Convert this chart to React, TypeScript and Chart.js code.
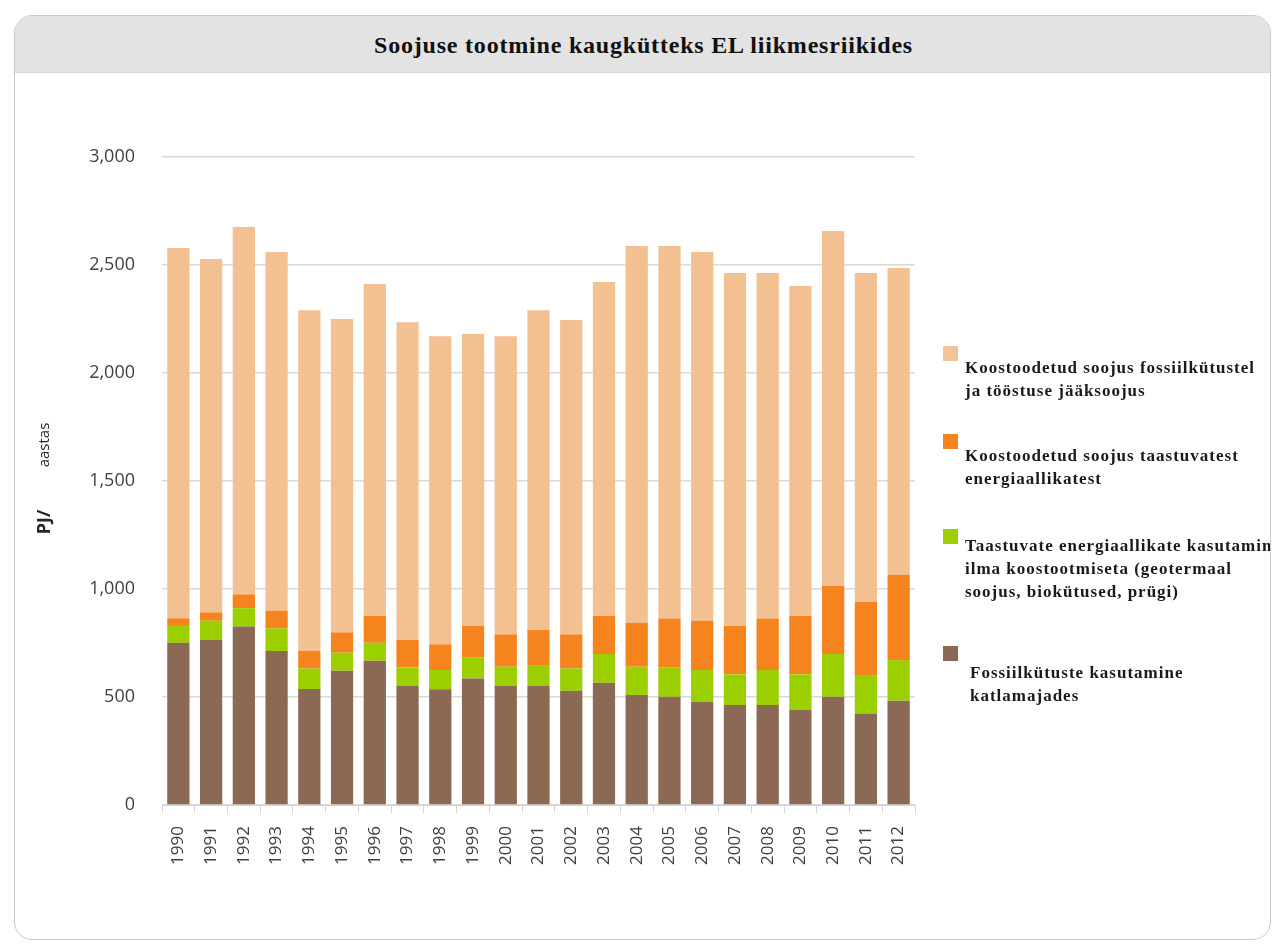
import React, { useEffect, useRef } from "react";
import { Chart, registerables } from "chart.js";

Chart.register(...registerables);

// Years on the category axis
const years = [
  "1990", "1991", "1992", "1993", "1994", "1995", "1996", "1997", "1998", "1999", "2000",
  "2001", "2002", "2003", "2004", "2005", "2006", "2007", "2008", "2009", "2010", "2011", "2012",
];

// PJ per year, stacked bottom to top
const fossilBoilers = [751, 764, 826, 713, 537, 622, 668, 551, 536, 586, 551, 551, 529, 566, 509, 501, 478, 463, 463, 440, 501, 424, 483];
const renewableNoChp = [78, 89, 85, 105, 95, 83, 83, 86, 89, 96, 89, 97, 103, 133, 131, 136, 147, 142, 162, 165, 198, 178, 188];
const chpRenewable = [35, 39, 64, 82, 82, 94, 124, 127, 119, 147, 150, 162, 158, 176, 204, 227, 228, 224, 239, 270, 315, 339, 394];
const chpFossilWaste = [1715, 1636, 1701, 1660, 1576, 1451, 1537, 1471, 1426, 1351, 1380, 1480, 1455, 1546, 1744, 1724, 1707, 1634, 1599, 1528, 1643, 1522, 1421];

const seriesColors = ["#8c6954", "#9ccf00", "#f5841f", "#f3c191"];

// Legend entries, top to bottom, each with its wrapped lines
const legendLines = [
  ["Koostoodetud soojus fossiilkütustel", "ja tööstuse jääksoojus"],
  ["Koostoodetud soojus taastuvatest", "energiaallikatest"],
  ["Taastuvate energiaallikate kasutamine", "ilma koostootmiseta (geotermaal", "soojus, biokütused, prügi)"],
  ["Fossiilkütuste kasutamine", "katlamajades"],
];
const legendColors = ["#f2c39a", "#f5841f", "#9ccf00", "#8c6954"];

const titleText = "Soojuse tootmine kaugkütteks EL liikmesriikides";
const yUnit = "PJ/";
const yUnitRest = "aastas";

const W = 1277;
const H = 949;

// legend block placement: square top and first text baseline per entry
const legendSquareTops = [346, 434, 529, 646];
const legendFirstBaselines = [373, 461, 551, 678];

const sidePlugin = {
  id: "sideTexts",
  afterDraw(chart: any) {
    const ctx: CanvasRenderingContext2D = chart.ctx;
    ctx.save();
    // axis unit, rotated
    ctx.fillStyle = "#262626";
    ctx.textAlign = "center";
    ctx.textBaseline = "middle";
    ctx.save();
    ctx.translate(45, 522);
    ctx.rotate(-Math.PI / 2);
    ctx.font = "bold 18px 'Open Sans'";
    ctx.fillText(yUnit, 0, 0);
    ctx.restore();
    ctx.save();
    ctx.translate(45, 445);
    ctx.rotate(-Math.PI / 2);
    ctx.font = "15px 'Open Sans'";
    ctx.fillText(yUnitRest, 0, 0);
    ctx.restore();

    // legend
    ctx.beginPath();
    ctx.rect(0, 0, 1270, H);
    ctx.clip();
    ctx.textAlign = "left";
    ctx.textBaseline = "alphabetic";
    ctx.font = "bold 17px 'Liberation Serif'";
    (ctx as any).letterSpacing = "1px";
    legendLines.forEach((lines, i) => {
      ctx.fillStyle = legendColors[i];
      ctx.fillRect(943, legendSquareTops[i], 15, 15);
      ctx.fillStyle = "#1a1a1a";
      const x = i === 3 ? 970 : 965;
      lines.forEach((line, j) => {
        ctx.fillText(line, x, legendFirstBaselines[i] + j * 23);
      });
    });
    ctx.restore();
  },
};

export default function App() {
  const canvasRef = useRef<HTMLCanvasElement | null>(null);

  useEffect(() => {
    const canvas = canvasRef.current;
    if (!canvas) return;
    const data = [fossilBoilers, renewableNoChp, chpRenewable, chpFossilWaste];
    const names = [legendLines[3].join(" "), legendLines[2].join(" "), legendLines[1].join(" "), legendLines[0].join(" ")];
    const chart = new Chart(canvas, {
      type: "bar",
      data: {
        labels: years,
        datasets: data.map((values, i) => ({
          label: names[i],
          data: values,
          backgroundColor: seriesColors[i],
          borderWidth: 0,
          categoryPercentage: 0.68,
          barPercentage: 1,
        })),
      },
      options: {
        responsive: false,
        animation: false,
        layout: { padding: { left: 0, top: 157, right: W - 915, bottom: 0 } },
        plugins: {
          legend: { display: false },
          title: { display: false },
          tooltip: { enabled: false },
        },
        scales: {
          x: {
            stacked: true,
            offset: true,
            grid: {
              display: true,
              drawOnChartArea: false,
              drawTicks: true,
              tickLength: 8,
              color: "#d3d3d3",
              offset: true,
            },
            border: { display: true, color: "#d3d3d3" },
            ticks: {
              minRotation: 90,
              maxRotation: 90,
              padding: 13,
              color: "#404040",
              font: { family: "'Open Sans'", size: 17 },
              autoSkip: false,
            },
            afterFit(scale: any) {
              scale.height = H - 805;
            },
          },
          y: {
            stacked: true,
            min: 0,
            max: 3000,
            grid: { color: "#d9d9d9", lineWidth: 1.5, drawTicks: false },
            border: { display: false },
            ticks: {
              stepSize: 500,
              padding: 27,
              color: "#404040",
              font: { family: "'Open Sans'", size: 18 },
              callback: (v: any) => Number(v).toLocaleString("en-US"),
            },
            afterFit(scale: any) {
              scale.width = 162;
            },
          },
        },
      },
      plugins: [sidePlugin],
    });
    return () => chart.destroy();
  }, []);

  return (
    <div style={{ position: "fixed", left: 0, top: 0, width: W, height: H, background: "#ffffff", overflow: "hidden" }}>
      <div
        style={{
          position: "absolute",
          left: 14,
          top: 15,
          width: 1255,
          height: 923,
          border: "1.5px solid #c9c9c9",
          borderRadius: 18,
          overflow: "hidden",
          background: "#ffffff",
        }}
      >
        <div
          style={{
            height: 56,
            background: "#e3e3e3",
            borderBottom: "1px solid #d8d8d8",
            display: "flex",
            alignItems: "center",
            justifyContent: "center",
          }}
        >
          <span
            style={{
              fontFamily: "'Liberation Serif'",
              fontWeight: "bold",
              fontSize: 24,
              letterSpacing: "0.8px",
              color: "#111",
              marginTop: 2,
              marginLeft: 2,
            }}
          >
            {titleText}
          </span>
        </div>
      </div>
      <canvas ref={canvasRef} width={W} height={H} style={{ position: "absolute", left: 0, top: 0 }} />
    </div>
  );
}
